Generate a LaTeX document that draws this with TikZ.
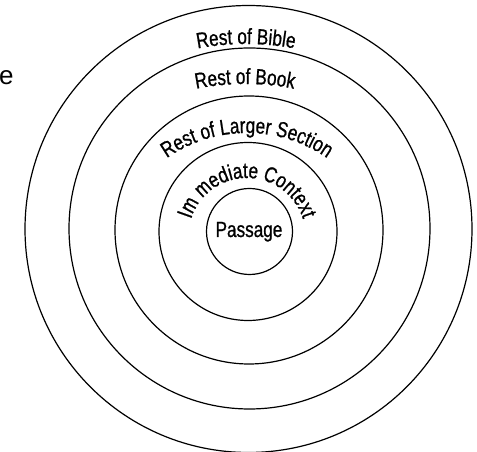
\documentclass[tikz,border=0pt]{standalone}
\usepackage{fontspec}
\setmainfont{Liberation Sans}
\newfontfamily\condfont[FakeStretch=0.78,FakeBold=0.8]{Liberation Sans}
\newcommand\lblfont{\condfont\fontsize{22}{26}\selectfont}
\usetikzlibrary{decorations.text}
\tikzset{
  ring/.style={circle, draw=black, line width=1.2pt, inner sep=0pt},
  arclabel/.style={decorate, decoration={text along path, text align=center, text={|\lblfont|#1}}}
}
\begin{document}
\begin{tikzpicture}[x=1pt,y=1pt]
\useasboundingbox (0,0) rectangle (477,452);
% circles (pixel y -> 452 - y)
\node[ring, minimum size=447pt] (c1) at (248.5,223) {};
\node[ring, minimum size=361pt] (c2) at (249.5,223.5) {};
\node[ring, minimum size=268pt] (c3) at (249,222) {};
\node[ring, minimum size=178pt] (c4) at (248,220.5) {};
\node[ring, minimum size=86pt] (c5) at (249.5,220.5) {};
% curved labels
\path[arclabel={Rest of Bible}] (246,148) ++(180:260pt) arc[start angle=180, end angle=0, radius=260pt];
\path[arclabel={Rest of Book}] (245,118) ++(180:250pt) arc[start angle=180, end angle=0, radius=250pt];
\path[arclabel={Rest of Larger Section}] (247,179) ++(180:140pt) arc[start angle=180, end angle=0, radius=140pt];
\path[arclabel={Im mediate Context}] (247,215.4) ++(180:58.6pt) arc[start angle=180, end angle=0, radius=58.6pt];
\node[font=\lblfont, anchor=base, inner sep=0pt] (passage) at (249,215) {Passage};
\node[font=\fontsize{26}{30}\selectfont, anchor=base west, inner sep=0pt] (cut) at (-1,367) {e};
\end{tikzpicture}
\end{document}
